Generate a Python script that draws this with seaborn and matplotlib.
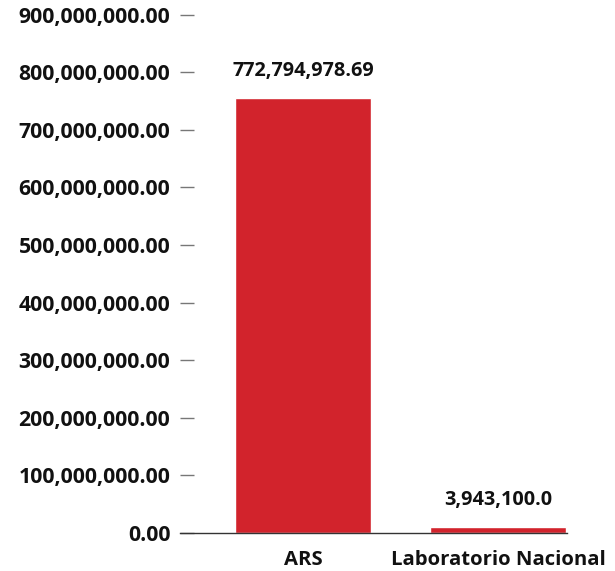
import matplotlib
matplotlib.use("Agg")
import matplotlib.pyplot as plt
import seaborn as sns
import pandas as pd
from matplotlib.ticker import FuncFormatter, MultipleLocator

categories = ["ARS", "Laboratorio Nacional"]
bar_heights = [755_000_000, 11_000_000]          # heights as drawn in the reference
value_labels = ["772,794,978.69", "3,943,100.0"]  # labels printed above bars
y_max = 900_000_000
y_step = 100_000_000

sns.set_theme(style="white")
plt.rcParams["font.family"] = ["Open Sans", "DejaVu Sans"]
plt.rcParams["font.weight"] = "bold"

fig = plt.figure(figsize=(6.15, 5.71), dpi=100)
ax = fig.add_axes([180 / 615, 38 / 571, 387 / 615, 518.5 / 571])

df = pd.DataFrame({"cat": categories, "val": bar_heights})
sns.barplot(data=df, x="cat", y="val", color="#d2232c", saturation=1,
            width=0.7, ax=ax)

for patch, lab in zip(ax.patches, value_labels):
    ax.annotate(lab, (patch.get_x() + patch.get_width() / 2, patch.get_height()),
                xytext=(0, 12), textcoords="offset points", ha="center", va="bottom",
                fontsize=14.3, fontweight="bold", color="#111111")

ax.set_xlim(-0.631, 1.354)
ax.set_ylim(0, y_max)
ax.yaxis.set_major_locator(MultipleLocator(y_step))
ax.yaxis.set_major_formatter(FuncFormatter(lambda v, p: f"{v:,.2f}"))
ax.set_xlabel("")
ax.set_ylabel("")

for s in ["top", "right", "left"]:
    ax.spines[s].set_visible(False)
ax.spines["bottom"].set_color("#333333")
ax.spines["bottom"].set_linewidth(1)

ax.tick_params(axis="y", direction="in", length=10, width=1, color="#777777",
               pad=7, labelsize=15.3, labelcolor="#111111", left=True)
ax.tick_params(axis="x", length=0, pad=12.5, labelsize=14.6, labelcolor="#111111")
for t in ax.get_yticklabels() + ax.get_xticklabels():
    t.set_fontweight("bold")

fig.savefig("out.png", dpi=100)
